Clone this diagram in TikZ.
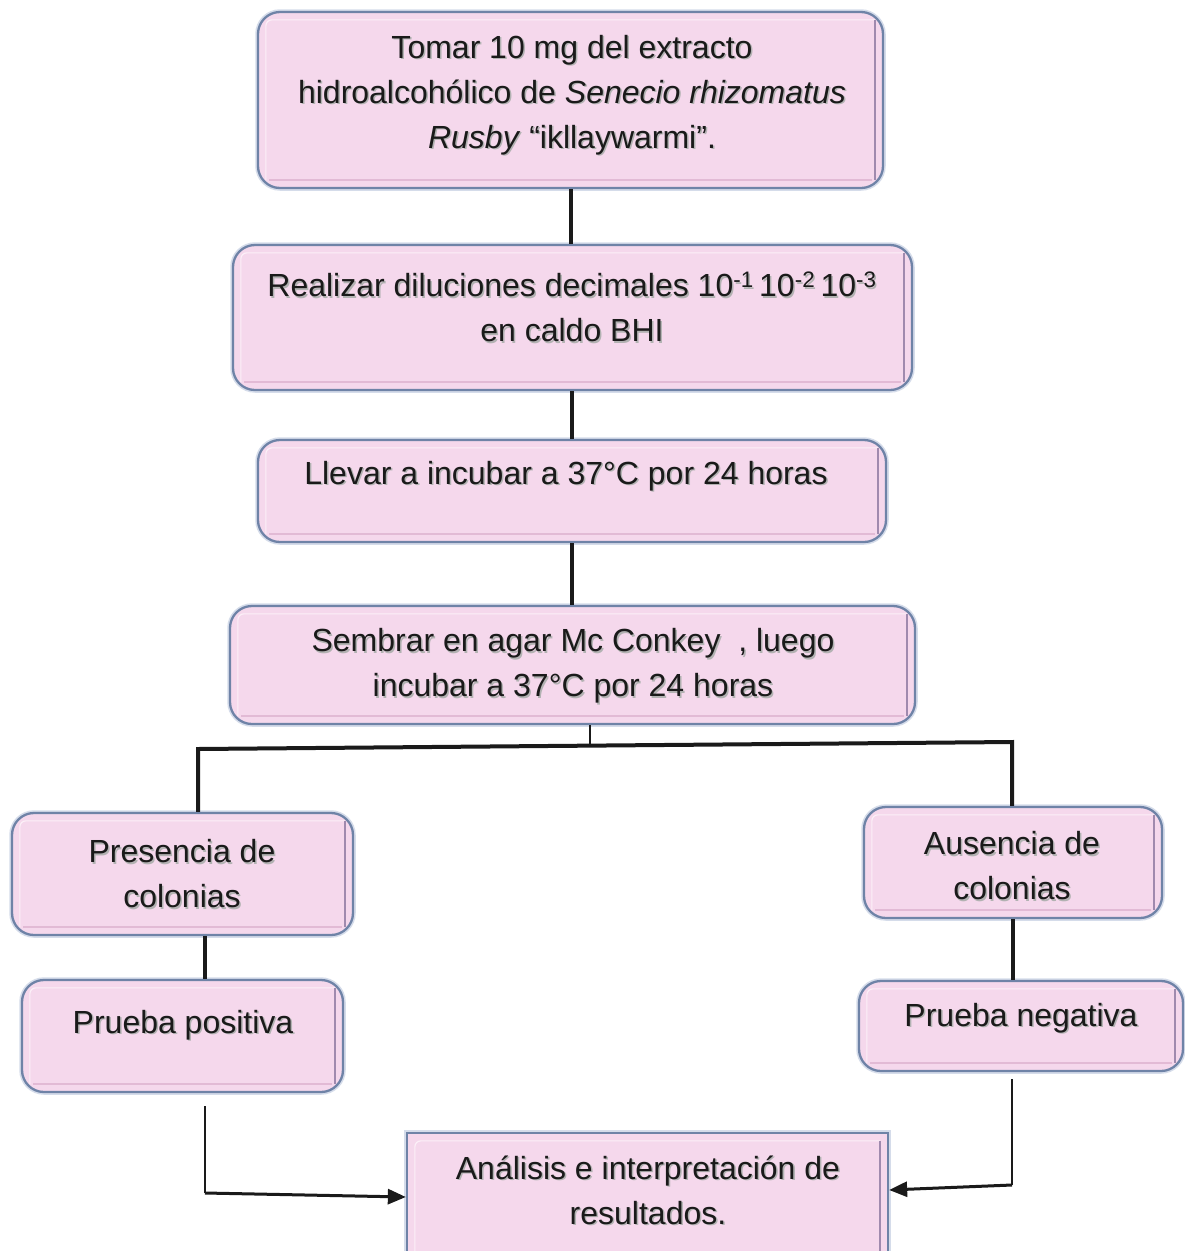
\documentclass[tikz,border=0pt]{standalone}
\usepackage{fontspec}
\setmainfont{Liberation Sans}
\usetikzlibrary{arrows.meta,calc}

\definecolor{panelfill}{HTML}{F5D8EC}
\definecolor{panelrim}{HTML}{6F83A7}
\definecolor{panelhalo}{HTML}{D5DCEA}
\definecolor{bevdark}{HTML}{A08AAE}
\definecolor{bevlow}{HTML}{E2BAD5}
\definecolor{bevlight}{HTML}{FCF0F8}
\definecolor{ink}{HTML}{1A1A1A}

\tikzset{
  x=1pt, y=-1pt,
  panelbox/.style={draw=panelrim, line width=2.3pt, fill=panelfill,
    rounded corners=22pt, inner sep=0pt,
    preaction={draw=panelhalo, line width=5.5pt, rounded corners=22pt}},
  squarebox/.style={draw=panelrim, line width=2.3pt, fill=panelfill, inner sep=0pt,
    preaction={draw=panelhalo, line width=5.5pt}},
  steptext/.style={align=center, font=\fontsize{32}{45}\selectfont, text=ink, inner sep=0pt},
  textshade/.style={steptext, text=black!30},
  link/.style={draw=ink, line width=4pt},
  thinlink/.style={draw=ink, line width=2pt},
  arrowlink/.style={draw=ink, line width=3pt, -{Triangle[length=18pt,width=15pt]}},
}

% inner bevel of a panel: light top/left, darker right and bottom
\newcommand\bevel[2][9]{%
  \draw[bevlight, line width=1.2pt, rounded corners=6pt]
    ($(#2.south west)+(#1,-#1)$) -- ($(#2.north west)+(#1,#1)$) -- ($(#2.north east)+(-#1,#1)$);
  \draw[bevdark, line width=1.5pt, rounded corners=6pt]
    ($(#2.north east)+(-#1,#1)$) -- ($(#2.south east)+(-#1,-#1)$);
  \draw[bevlow, line width=1.4pt]
    ($(#2.south east)+(-#1-3,-#1)$) -- ($(#2.south west)+(#1+3,-#1)$);
}
% panel: name, centre x, centre y, width, height
\newcommand\panel[5]{%
  \node[panelbox, minimum width=#4pt, minimum height=#5pt] (#1) at (#2,#3) {};
  \bevel{#1}}
% text with a soft drop shade: name, x, y, text
\newcommand\steplabel[4]{%
  \node[textshade] (#1s) at (#2+1.5,#3+1.5) {#4};
  \node[steptext] (#1) at (#2,#3) {#4};}

\begin{document}
\begin{tikzpicture}
\useasboundingbox (0,0) rectangle (1185,1251);
\fill[white] (0,0) rectangle (1185,1251);
\clip (0,0) rectangle (1185,1251);

% panels
\panel{b1}{570.5}{100}{625}{176}
\panel{b2}{572.5}{317.5}{679}{145}
\panel{b3}{572}{491}{628}{102}
\panel{b4}{572.5}{665}{685}{118}
\panel{b5}{182.5}{874}{341}{122}
\panel{b6}{182.5}{1036}{321}{112}
\panel{b7}{1013}{862.5}{298}{111}
\panel{b8}{1021}{1026}{324}{90}
\node[squarebox, minimum width=481pt, minimum height=128pt] (b9) at (647.5,1197) {};
\bevel{b9}

% texts
\steplabel{t1}{572}{95}{Tomar 10 mg del extracto\\hidroalcohólico de \textit{Senecio rhizomatus}\\\textit{Rusby} “ikllaywarmi”.}
\steplabel{t2}{572}{307}{Realizar diluciones decimales 10\textsuperscript{-1}\,10\textsuperscript{-2}\,10\textsuperscript{-3}\\en caldo BHI}
\steplabel{t3}{566}{476}{Llevar a incubar a 37°C por 24 horas}
\steplabel{t4}{573}{666}{Sembrar en agar Mc Conkey\ \ , luego\\incubar a 37°C por 24 horas}
\steplabel{t5}{182}{874}{Presencia de\\colonias}
\steplabel{t6}{183}{1025}{Prueba positiva}
\steplabel{t7}{1012}{866}{Ausencia de\\colonias}
\steplabel{t8}{1021}{1018}{Prueba negativa}
\steplabel{t9}{648}{1190}{Análisis e interpretación de\\resultados.}

% main chain
\draw[link] (b1.south) -- (b1.south |- b2.north);
\draw[link] (b3.north |- b2.south) -- (b3.north);
\draw[link] (b3.south) -- (b3.south |- b4.north);

% branching
\coordinate (jM) at (590,745);
\coordinate (jL) at (198,749);
\coordinate (jR) at (1012,742);
\draw[thinlink] (b4.south -| jM) -- (jM);
\draw[link] (b5.north -| jL) -- (jL) -- (jR) -- (b7.north -| jR);

% results
\coordinate (cL) at (205,960);
\coordinate (cR) at (1013,950);
\draw[link] (b5.south -| cL) -- (b6.north -| cL);
\draw[link] (b7.south -| cR) -- (b8.north -| cR);

% towards the analysis
\coordinate (pL) at (205,1193);
\coordinate (pLtop) at ($(b6.south -| pL)+(0,13)$);
\coordinate (pR) at (1012,1185);
\coordinate (pRtop) at ($(b8.south -| pR)+(0,7)$);
\coordinate (rY) at (0,1190);
\draw[thinlink] (pLtop) -- (pL);
\draw[arrowlink] (pL) -- (b9.west);
\draw[thinlink] (pRtop) -- (pR);
\draw[arrowlink] (pR) -- (b9.east |- rY);
\end{tikzpicture}
\end{document}
